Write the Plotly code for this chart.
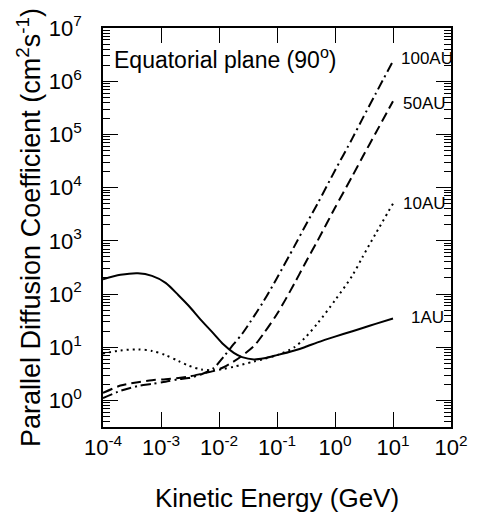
import plotly.graph_objects as go

# Kinetic energy grid (GeV)
energy = [1e-4, 2e-4, 4e-4, 7e-4, 1.2e-3, 2e-3, 3e-3, 5e-3, 8e-3, 1.2e-2, 1.8e-2, 2.5e-2,
          4e-2, 6e-2, 0.1, 0.2, 0.3, 0.5, 1, 2, 3, 5, 10]

# Parallel diffusion coefficient values
d_1au = [190, 229, 245, 219, 162, 95, 60, 31.6, 18.2, 11.2, 7.8, 6.5,
         5.9, 6.2, 7.1, 8.7, 10, 12.3, 15.8, 20, 23, 27.5, 34.7]
d_10au = [7.6, 8.7, 9.1, 8.5, 7.1, 5.5, 4.5, 3.8, 3.7, 3.9, 4.3, 4.7,
          5.4, 6.0, 7.1, 10, 14.8, 28, 76, 224, 500, 1350, 5000]
d_50au = [1.38, 1.9, 2.19, 2.4, 2.5, 2.63, 2.8, 3.16, 3.55, 4.2, 5.4, 6.9,
          10.5, 18.6, 42, 158, 363, 1000, 4170, 1.66e4, 3.8e4, 1.05e5, 4.2e5]
d_100au = [1.1, 1.51, 1.86, 2.04, 2.24, 2.5, 2.63, 3.1, 4.0, 6.6, 11.5, 17.8,
           38, 76, 200, 794, 1820, 5000, 2.1e4, 8.5e4, 2.0e5, 5.75e5, 2.4e6]

series_names = ["1AU", "10AU", "50AU", "100AU"]
series_vals = [d_1au, d_10au, d_50au, d_100au]
dash_styles = ["solid", "2px,4px", "10px,5px", "10px,4px,2px,4px"]

x_tick_vals = [1e-4, 1e-3, 1e-2, 1e-1, 1, 10, 100]
x_tick_text = ["10<sup>-4</sup>", "10<sup>-3</sup>", "10<sup>-2</sup>", "10<sup>-1</sup>",
               "10<sup>0</sup>", "10<sup>1</sup>", "10<sup>2</sup>"]
y_tick_vals = [1, 10, 100, 1e3, 1e4, 1e5, 1e6, 1e7]
y_tick_text = ["10<sup>0</sup>", "10<sup>1</sup>", "10<sup>2</sup>", "10<sup>3</sup>",
               "10<sup>4</sup>", "10<sup>5</sup>", "10<sup>6</sup>", "10<sup>7</sup>"]
y_minor_vals = [k * 10.0 ** n for n in range(-1, 7) for k in range(2, 10)]

# label positions (log10 units)
label_x = [1.27, 1.13, 1.13, 1.1]
label_y = [1.56, 3.70, 5.58, 6.42]

FONT = "Arial, Liberation Sans, Helvetica, sans-serif"

fig = go.Figure()
for name, vals, dash in zip(series_names, series_vals, dash_styles):
    fig.add_trace(go.Scatter(x=energy, y=vals, mode="lines", name=name,
                             line=dict(color="black", width=2, dash=dash, shape="spline",
                                       smoothing=0.8),
                             showlegend=False))

for name, lx, ly in zip(series_names, label_x, label_y):
    fig.add_annotation(x=lx, y=ly, xref="x", yref="y", text=name, showarrow=False,
                       xanchor="left", yanchor="middle",
                       font=dict(size=17, color="black", family=FONT))

fig.add_annotation(x=0.025, y=0.925, xref="paper", yref="paper",
                   text="Equatorial plane (90<sup>o</sup>)", showarrow=False,
                   xanchor="left", yanchor="middle",
                   font=dict(size=23, color="black", family=FONT))

axis_common = dict(showline=True, linecolor="black", linewidth=1.5, mirror="ticks",
                   ticks="inside", tickcolor="black", tickwidth=1.2, showgrid=False,
                   zeroline=False, tickfont=dict(size=22, color="black", family=FONT))

fig.update_xaxes(type="log", range=[-4, 2], tickmode="array", tickvals=x_tick_vals,
                 ticktext=x_tick_text, ticklen=15,
                 title=dict(text="Kinetic Energy (GeV)", font=dict(size=26, color="black", family=FONT),
                            standoff=30),
                 **axis_common)
fig.update_yaxes(type="log", range=[-0.5, 7], tickmode="array", tickvals=y_tick_vals,
                 ticktext=y_tick_text, ticklen=15, ticklabelstandoff=15,
                 minor=dict(tickmode="array", tickvals=y_minor_vals, ticks="inside",
                            ticklen=7, tickcolor="black", tickwidth=1, showgrid=False),
                 title=dict(text="Parallel Diffusion Coefficient (cm<sup>2</sup>s<sup>-1</sup>)",
                            font=dict(size=27, color="black", family=FONT), standoff=0),
                 **axis_common)

fig.update_layout(width=480, height=520, margin=dict(l=103, r=17, t=16, b=88),
                  plot_bgcolor="white", paper_bgcolor="white",
                  font=dict(family=FONT, color="black"))

fig.write_html("out.html")
